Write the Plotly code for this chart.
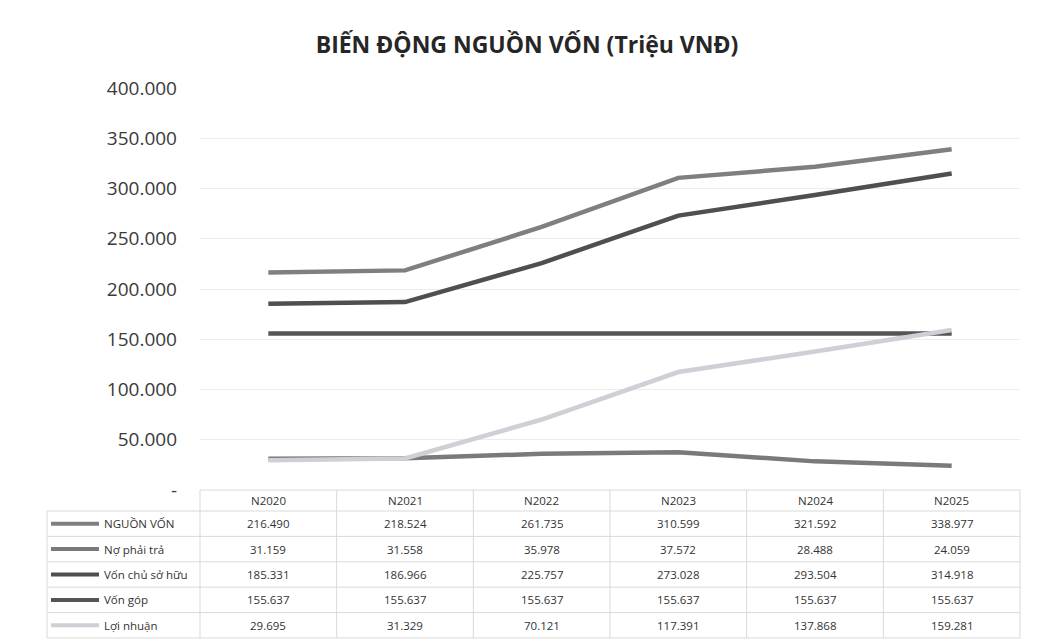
import plotly.graph_objects as go

years = ["N2020", "N2021", "N2022", "N2023", "N2024", "N2025"]
series_names = ["NGUỒN VỐN", "Nợ phải trả", "Vốn chủ sở hữu", "Vốn góp", "Lợi nhuận"]
nguon_von = [216490, 218524, 261735, 310599, 321592, 338977]
no_phai_tra = [31159, 31558, 35978, 37572, 28488, 24059]
von_chu_so_huu = [185331, 186966, 225757, 273028, 293504, 314918]
von_gop = [155637, 155637, 155637, 155637, 155637, 155637]
loi_nhuan = [29695, 31329, 70121, 117391, 137868, 159281]
y_ticks = [0, 50000, 100000, 150000, 200000, 250000, 300000, 350000, 400000]

series_values = [nguon_von, no_phai_tra, von_chu_so_huu, von_gop, loi_nhuan]
colors = ["#7f7f7f", "#7a7a7a", "#4f4f4f", "#555555", "#cdd0d4"]

OFF = 8  # page body margin
W, H = 1038 - OFF, 643 - OFF
ML, MR, MT, MB = 200 - OFF, 18, 88 - OFF, 153
PW, PH = W - ML - MR, H - MT - MB


def fmt(v):
    return "-" if v == 0 else f"{v:,}".replace(",", ".")


def px_x(px):
    return (px - OFF - ML) / PW


def px_y(py):
    return (H - MB - (py - OFF)) / PH


fig = go.Figure()
for name, vals, c in zip(series_names, series_values, colors):
    fig.add_trace(go.Scatter(x=years, y=vals, name=name, mode="lines",
                             line=dict(color=c, width=4.5), showlegend=False))

shapes = []
annotations = []
grid_c = "#d9d9d9"
table_top, header_bot = 490, 511
row_h = 25.4
table_bot = header_bot + row_h * len(series_names)
col_w = PW / len(years)
left_px = 47

shapes.append(dict(type="line", xref="paper", yref="paper", x0=0, x1=1,
                   y0=px_y(table_top), y1=px_y(table_top), line=dict(color=grid_c, width=1)))
for i in range(len(series_names) + 1):
    yy = header_bot + i * row_h
    shapes.append(dict(type="line", xref="paper", yref="paper", x0=px_x(left_px), x1=1,
                       y0=px_y(yy), y1=px_y(yy), line=dict(color=grid_c, width=1)))
for j in range(len(years) + 1):
    xx = 200 + j * col_w
    shapes.append(dict(type="line", xref="paper", yref="paper", x0=px_x(xx), x1=px_x(xx),
                       y0=px_y(table_top), y1=px_y(table_bot), line=dict(color=grid_c, width=1)))
shapes.append(dict(type="line", xref="paper", yref="paper", x0=px_x(left_px), x1=px_x(left_px),
                   y0=px_y(header_bot), y1=px_y(table_bot), line=dict(color=grid_c, width=1)))

tfont = dict(family="Open Sans, sans-serif", size=11.5, color="#333333")
for yr in years:
    annotations.append(dict(x=yr, xref="x", y=px_y((table_top + header_bot) / 2), yref="paper",
                            text=yr, showarrow=False, font=tfont, xanchor="center", yanchor="middle"))
for i, (name, vals, c) in enumerate(zip(series_names, series_values, colors)):
    cy = px_y(header_bot + (i + 0.5) * row_h)
    shapes.append(dict(type="line", xref="paper", yref="paper", x0=px_x(51), x1=px_x(99),
                       y0=cy, y1=cy, line=dict(color=c, width=4)))
    annotations.append(dict(x=px_x(102), xref="paper", y=cy, yref="paper", text=name,
                            showarrow=False, font=tfont, xanchor="left", yanchor="middle"))
    for yr, v in zip(years, vals):
        annotations.append(dict(x=yr, xref="x", y=cy, yref="paper", text=fmt(v),
                                showarrow=False, font=tfont, xanchor="center", yanchor="middle"))

fig.update_layout(
    width=W, height=H,
    margin=dict(l=ML, r=MR, t=MT, b=MB),
    paper_bgcolor="white", plot_bgcolor="white",
    title=dict(text="<b>BIẾN ĐỘNG NGUỒN VỐN (Triệu VNĐ)</b>", x=(527 - OFF) / W, xanchor="center",
               y=1 - (45 - OFF) / H, yanchor="middle",
               font=dict(family="Open Sans, sans-serif", size=23, color="#262626")),
    xaxis=dict(showticklabels=False, showgrid=False, zeroline=False, showline=False,
               range=[-0.5, len(years) - 0.5]),
    yaxis=dict(range=[0, 400000], tickvals=y_ticks, ticktext=[fmt(v) for v in y_ticks],
               showgrid=True, gridcolor="#ececec", gridwidth=1, zeroline=False,
               showline=False, ticks="", ticklabelstandoff=22,
               tickfont=dict(family="Open Sans, sans-serif", size=19, color="#3a3a3a")),
    shapes=shapes, annotations=annotations,
)

fig.write_html("out.html")
